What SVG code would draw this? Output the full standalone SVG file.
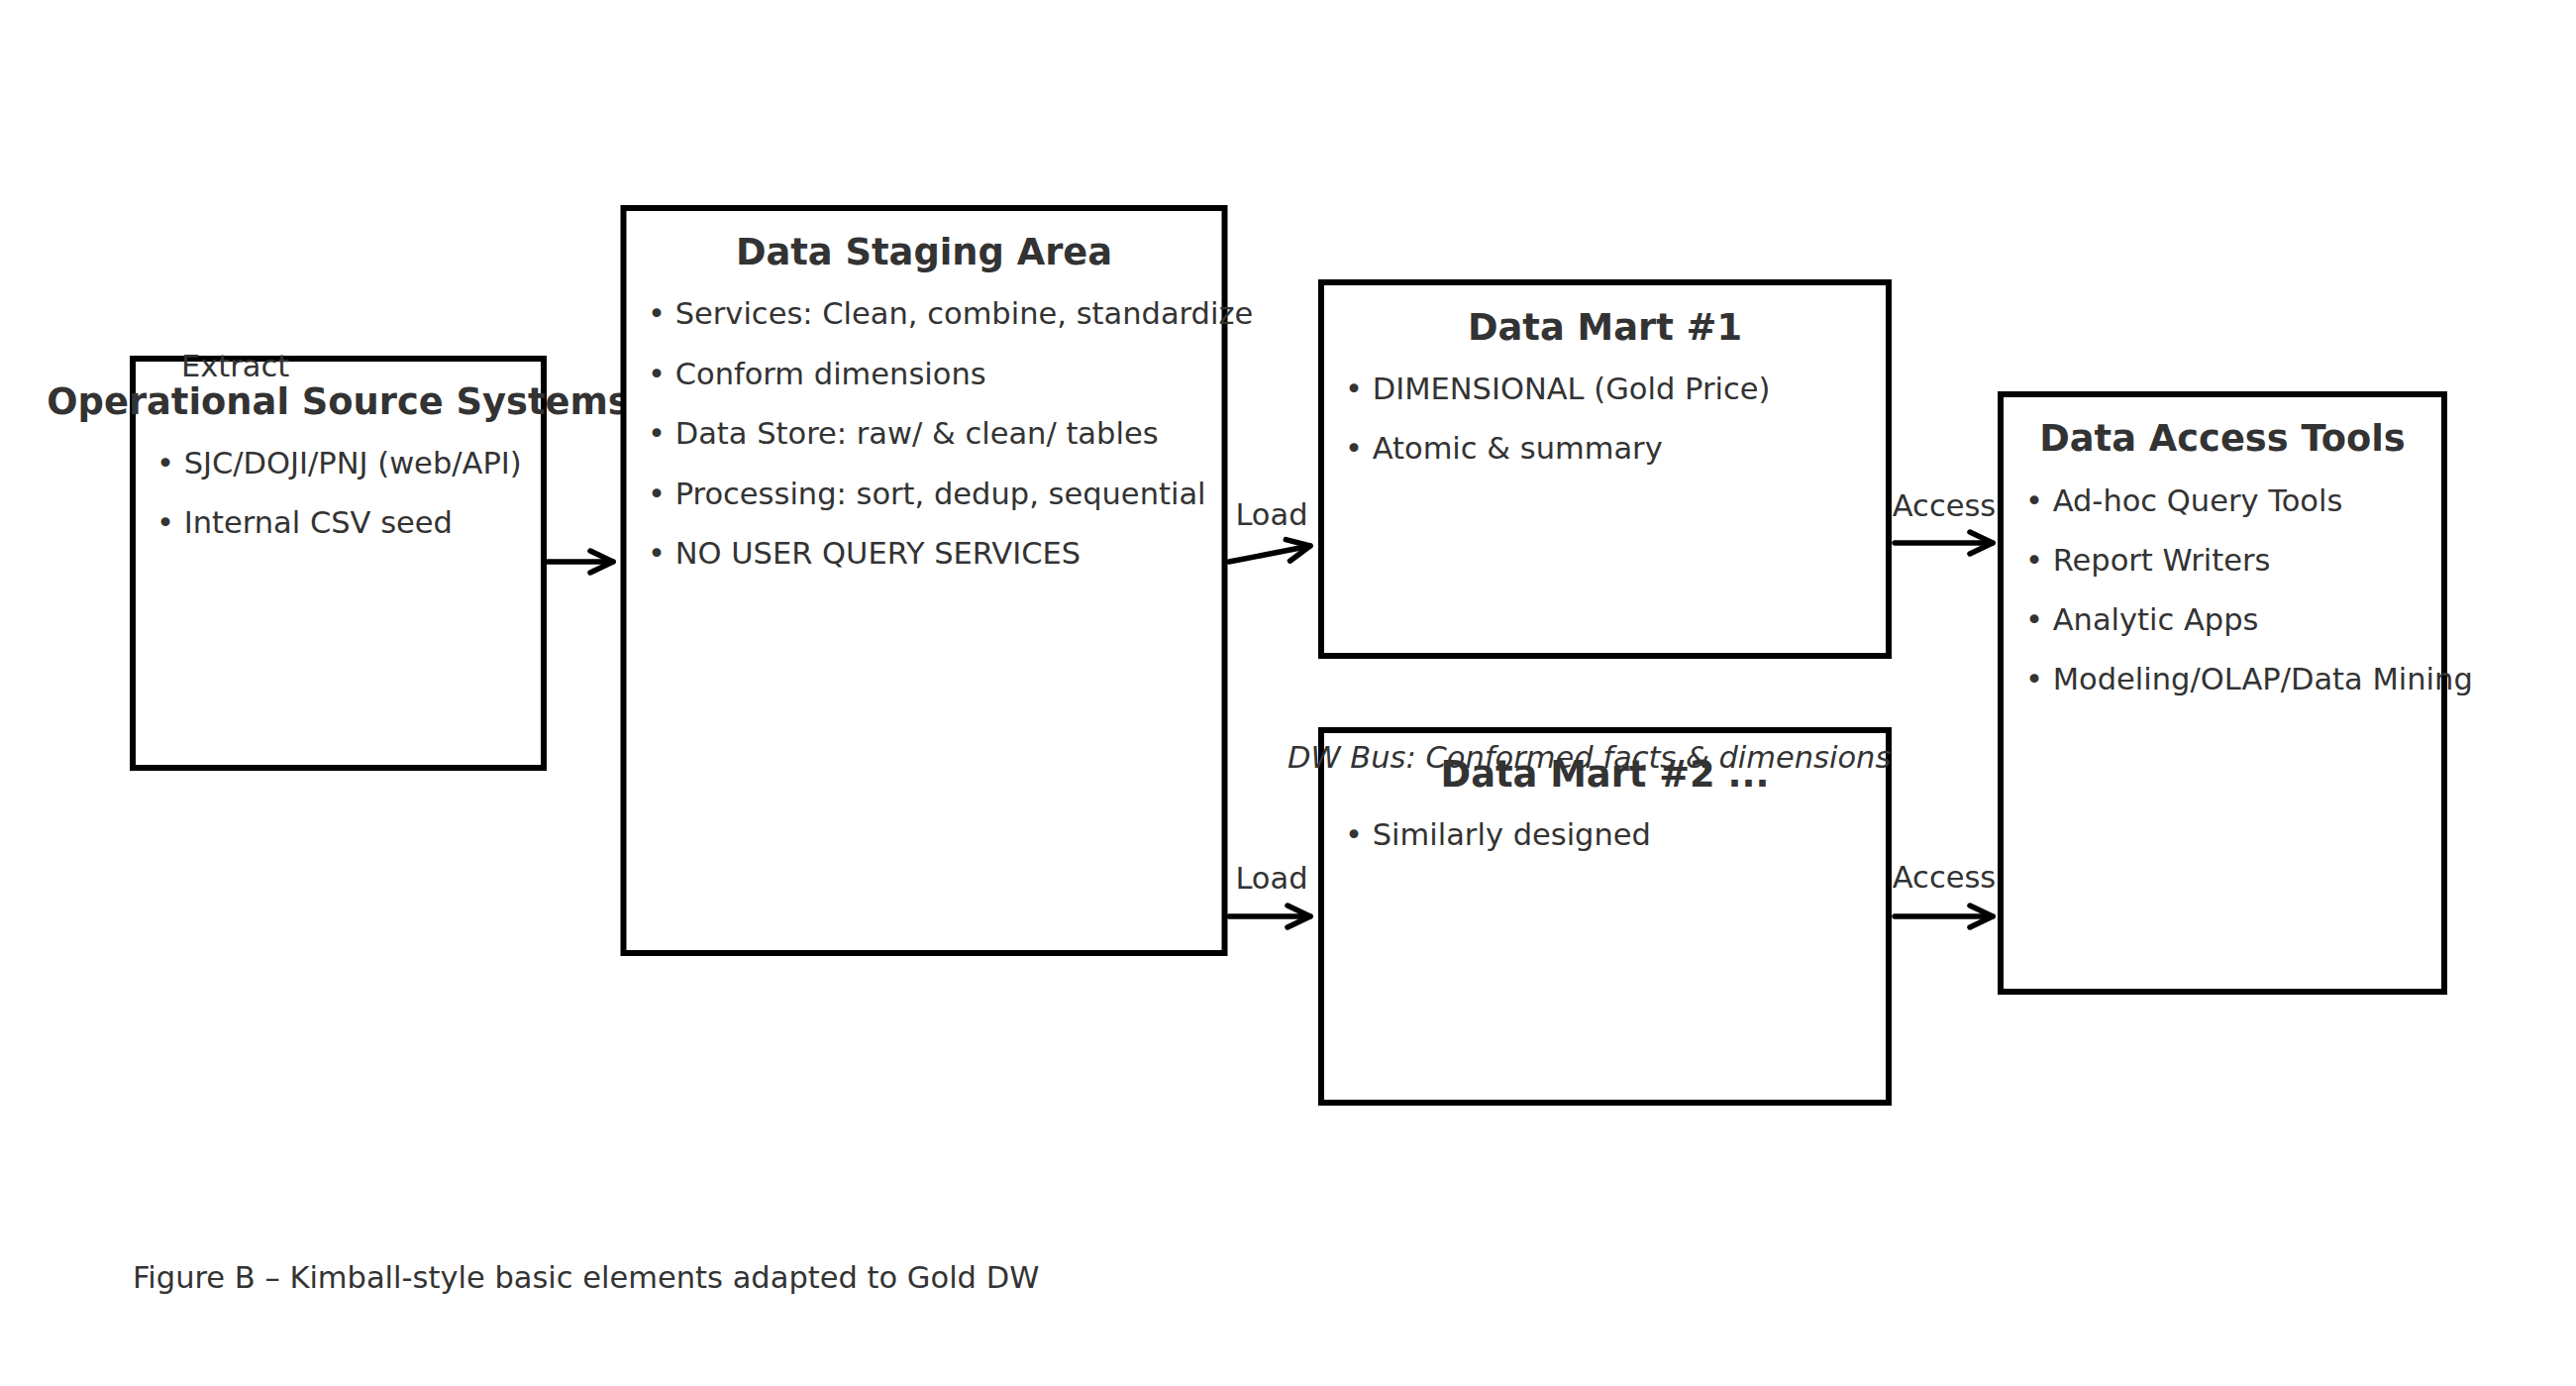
<svg xmlns="http://www.w3.org/2000/svg" width="2601" height="1399" viewBox="0 0 2601 1399">
<style>
.box{fill:#fff;stroke:#000;stroke-width:6}
.t{font-family:"DejaVu Sans",sans-serif;font-size:36.8px;font-weight:bold;fill:#333;text-anchor:middle}
.b{font-family:"DejaVu Sans",sans-serif;font-size:30.5px;fill:#333}
.l{font-family:"DejaVu Sans",sans-serif;font-size:30.5px;fill:#333}
.c{fill:none;stroke:#000;stroke-width:5.5;stroke-linecap:round}
</style>
<defs>
<marker id="ah" markerUnits="userSpaceOnUse" markerWidth="60" markerHeight="60" viewBox="-30 -30 60 60" refX="0" refY="0" orient="auto" overflow="visible">
<path d="M-23,-11 L0,0 L-23,11" fill="none" stroke="#000" stroke-width="5.5" stroke-linecap="round" stroke-linejoin="round"/>
</marker>
</defs>
<rect width="2601" height="1399" fill="#fff"/>
<g id="source">
<rect class="box" x="134" y="362" width="415" height="413"/>
<text class="t" x="341.5" y="418">Operational Source Systems</text>
<text class="b" x="158" y="478">• SJC/DOJI/PNJ (web/API)</text>
<text class="b" x="158" y="538">• Internal CSV seed</text>
</g>
<g id="staging">
<rect class="box" x="629.5" y="210" width="607" height="752"/>
<text class="t" x="933" y="267">Data Staging Area</text>
<text class="b" x="654" y="327">• Services: Clean, combine, standardize</text>
<text class="b" x="654" y="387.5">• Conform dimensions</text>
<text class="b" x="654" y="448">• Data Store: raw/ &amp; clean/ tables</text>
<text class="b" x="654" y="508.5">• Processing: sort, dedup, sequential</text>
<text class="b" x="654" y="569">• NO USER QUERY SERVICES</text>
</g>
<g id="mart1">
<rect class="box" x="1334" y="285" width="573" height="377"/>
<text class="t" x="1620.5" y="343">Data Mart #1</text>
<text class="b" x="1358" y="403">• DIMENSIONAL (Gold Price)</text>
<text class="b" x="1358" y="463">• Atomic &amp; summary</text>
</g>
<g id="mart2">
<rect class="box" x="1334" y="737" width="573" height="376"/>
<text class="t" x="1620.5" y="794">Data Mart #2 ...</text>
<text class="b" x="1358" y="853">• Similarly designed</text>
</g>
<g id="access">
<rect class="box" x="2020" y="398" width="448" height="603"/>
<text class="t" x="2244" y="455">Data Access Tools</text>
<text class="b" x="2045" y="515.5">• Ad-hoc Query Tools</text>
<text class="b" x="2045" y="576">• Report Writers</text>
<text class="b" x="2045" y="636">• Analytic Apps</text>
<text class="b" x="2045" y="696">• Modeling/OLAP/Data Mining</text>
</g>
<g id="connectors">
<path class="c" d="M553,567 L619,567" marker-end="url(#ah)"/>
<path class="c" d="M1241,567 L1323,551" marker-end="url(#ah)"/>
<path class="c" d="M1241,925 L1323,925" marker-end="url(#ah)"/>
<path class="c" d="M1913,548 L2012,548" marker-end="url(#ah)"/>
<path class="c" d="M1913,925 L2012,925" marker-end="url(#ah)"/>
<text class="l" x="183" y="380">Extract</text>
<text class="l" x="1284" y="530" text-anchor="middle">Load</text>
<text class="l" x="1284" y="897" text-anchor="middle">Load</text>
<text class="l" x="1963" y="521" text-anchor="middle">Access</text>
<text class="l" x="1963" y="896" text-anchor="middle">Access</text>
</g>
<text class="l" x="1300" y="775" font-style="italic">DW Bus: Conformed facts &amp; dimensions</text>
<text class="l" x="134" y="1300">Figure B – Kimball-style basic elements adapted to Gold DW</text>
</svg>
